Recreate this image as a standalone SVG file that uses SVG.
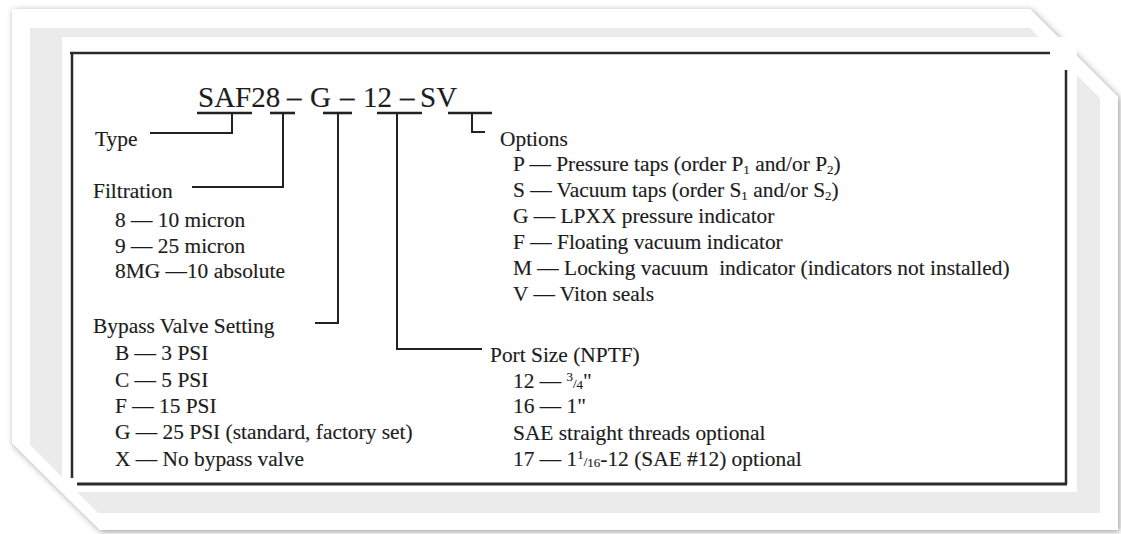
<svg xmlns="http://www.w3.org/2000/svg" width="1121" height="534" viewBox="0 0 1121 534">
<defs>
<filter id="sh" x="-5%" y="-5%" width="110%" height="110%">
<feDropShadow dx="1.5" dy="1.5" stdDeviation="3" flood-color="#000" flood-opacity="0.4"/>
</filter>
<style>
text{font-family:"Liberation Serif","Times New Roman",serif;fill:#1c1c1c;stroke:#1c1c1c;stroke-width:0.15;font-size:21.4px;white-space:pre}
.t{font-size:29px}
.s{font-size:13px}
.c{stroke:#222;stroke-width:2;fill:none}
.u{stroke:#222;stroke-width:2.6;fill:none}
.b{stroke:#2a2a2a;stroke-width:2.5;fill:none}
</style>
</defs>
<rect width="1121" height="534" fill="#fff"/>
<polygon points="12,9 1030,9 1118,97 1118,530 100,530 12,443" fill="#fff" filter="url(#sh)"/>
<polygon points="30,28 1030,28 1100,98 1100,513 98,513 30,445" fill="#ebebeb"/>
<rect x="62" y="37" width="1015" height="455" fill="#fff"/>
<g id="border">
<line class="b" x1="70" y1="53" x2="1050" y2="53"/>
<line class="b" x1="1066" y1="70" x2="1066" y2="484"/>
<line class="b" x1="77" y1="484" x2="1067" y2="484" style="stroke-width:3"/>
<line class="b" x1="72" y1="53" x2="72" y2="478"/>
</g>
<g id="connectors">
<line class="u" x1="197" y1="113" x2="252" y2="113"/>
<polyline class="c" points="232,113 232,133 150,133"/>
<line class="u" x1="270" y1="113" x2="295" y2="113"/>
<polyline class="c" points="283,113 283,187 192,187"/>
<line class="u" x1="323" y1="113" x2="352" y2="113"/>
<polyline class="c" points="338,113 338,323 315,323"/>
<line class="u" x1="377" y1="113" x2="422" y2="113"/>
<polyline class="c" points="397,113 397,349 482,349"/>
<line class="u" x1="448" y1="113" x2="492" y2="113"/>
<polyline class="c" points="472,113 472,132 485,132"/>
</g>
<g id="title">
<text class="t" y="107"><tspan x="198">SAF28</tspan><tspan x="287">–</tspan><tspan x="310">G</tspan><tspan x="340">–</tspan><tspan x="363">12</tspan><tspan x="400">–</tspan><tspan x="420">SV</tspan></text>
</g>
<g id="type">
<text x="95" y="146">Type</text>
</g>
<g id="filtration">
<text x="93" y="198">Filtration</text>
<text x="115" y="227">8 — 10 micron</text>
<text x="115" y="253">9 — 25 micron</text>
<text x="115" y="278">8MG —10 absolute</text>
</g>
<g id="bypass">
<text x="93" y="333">Bypass Valve Setting</text>
<text x="115" y="360">B — 3 PSI</text>
<text x="115" y="387">C — 5 PSI</text>
<text x="115" y="413">F — 15 PSI</text>
<text x="115" y="439">G — 25 PSI (standard, factory set)</text>
<text x="115" y="466">X — No bypass valve</text>
</g>
<g id="options">
<text x="500" y="146">Options</text>
<text x="513" y="171">P — Pressure taps (order P<tspan class="s" dy="3">1</tspan><tspan dy="-3"> and/or P</tspan><tspan class="s" dy="3">2</tspan><tspan dy="-3">)</tspan></text>
<text x="513" y="197">S — Vacuum taps (order S<tspan class="s" dy="3">1</tspan><tspan dy="-3"> and/or S</tspan><tspan class="s" dy="3">2</tspan><tspan dy="-3">)</tspan></text>
<text x="513" y="223">G — LPXX pressure indicator</text>
<text x="513" y="249">F — Floating vacuum indicator</text>
<text x="513" y="275">M — Locking vacuum  indicator (indicators not installed)</text>
<text x="513" y="301">V — Viton seals</text>
</g>
<g id="portsize">
<text x="490" y="362">Port Size (NPTF)</text>
<text x="513" y="388">12 — <tspan class="s" dy="-7">3</tspan><tspan class="s" dy="7">/</tspan><tspan class="s" dy="1">4</tspan><tspan dy="-1">"</tspan></text>
<text x="513" y="413">16 — 1"</text>
<text x="513" y="440">SAE straight threads optional</text>
<text x="513" y="466">17 — 1<tspan class="s" dy="-7">1</tspan><tspan class="s" dy="7">/</tspan><tspan class="s" dy="1">16</tspan><tspan dy="-1">-12 (SAE #12) optional</tspan></text>
</g>
</svg>
